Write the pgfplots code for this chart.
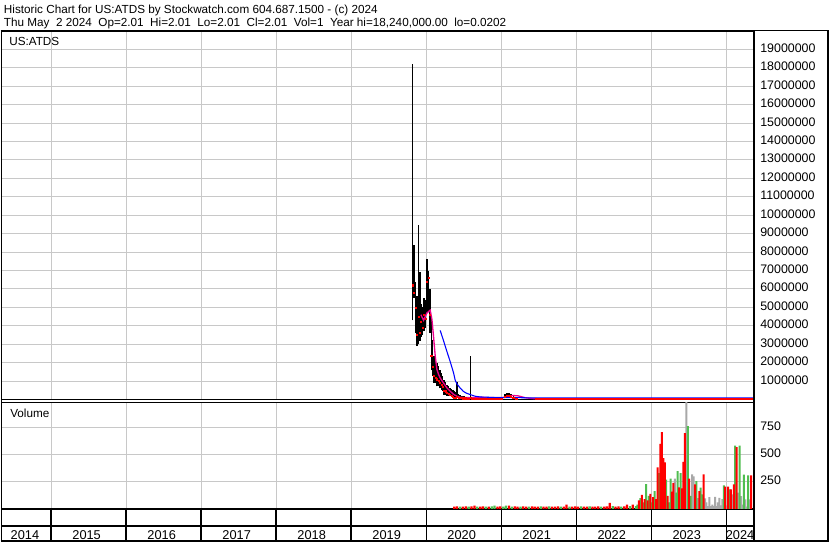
\documentclass[border=0pt]{standalone}
\usepackage{pgfplots}
\pgfplotsset{compat=1.18}
\usepackage{pgfplotstable}
\usepackage{fontspec}
\setmainfont{Liberation Sans}
\definecolor{gridgray}{RGB}{200,200,200}
\definecolor{volgreen}{RGB}{80,190,80}
\definecolor{volgray}{RGB}{168,168,168}

% price bars, values in millions of dollars
\pgfplotstableread{
t lo hi cl
2019.818 4.3 18.2 6.2
2019.837 5.5 8.4 5.8
2019.856 3.6 6.4 5.0
2019.875 2.9 5.6 3.5
2019.895 3.0 9.45 4.5
2019.914 3.2 6.9 3.6
2019.933 3.4 5.2 4.2
2019.952 3.5 5.0 3.9
2019.971 3.7 5.5 4.6
2019.990 3.9 5.4 4.4
2020.009 4.7 7.6 6.4
2020.028 4.8 7.0 6.6
2020.048 3.6 6.0 4.6
2020.067 1.6 4.5 2.4
2020.086 1.27 3.25 1.8
2020.105 0.9 2.35 1.3
2020.124 0.9 2.2 1.2
2020.143 0.72 2.0 1.1
2020.163 0.72 1.8 1.0
2020.182 0.6 1.6 0.9
2020.201 0.54 1.45 0.8
2020.220 0.45 1.3 0.7
2020.239 0.27 1.08 0.5
2020.258 0.27 0.95 0.45
2020.277 0.2 0.81 0.35
2020.297 0.18 0.75 0.3
2020.316 0.18 0.65 0.25
2020.335 0.15 0.55 0.2
2020.354 0.1 0.54 0.15
2020.373 0.09 0.45 0.12
2020.392 0.09 0.4 0.12
2020.411 0.1 0.95 0.15
2020.430 0.08 0.3 0.1
2020.449 0.06 0.25 0.08
2020.469 0.06 0.2 0.08
2020.488 0.05 0.2 0.07
2020.507 0.05 0.18 0.07
2020.526 0.05 0.15 0.07
2020.545 0.05 0.15 0.06
2020.564 0.05 0.14 0.06
2020.590 0.08 2.35 0.1
2020.602 0.05 0.14 0.06
2020.640 0.05 0.12 0.06
2020.680 0.04 0.12 0.05
2020.720 0.04 0.1 0.05
2020.760 0.04 0.1 0.05
2020.800 0.04 0.09 0.05
2020.840 0.04 0.09 0.05
2020.880 0.03 0.08 0.04
2020.920 0.03 0.08 0.04
2020.960 0.03 0.08 0.04
2021.000 0.03 0.08 0.04
2021.050 0.1 0.3 0.15
2021.070 0.12 0.35 0.2
2021.090 0.12 0.33 0.2
2021.110 0.1 0.36 0.2
2021.130 0.1 0.3 0.15
2021.160 0.06 0.2 0.1
2021.200 0.03 0.08 0.04
}\pricebars

\pgfplotstableread{
t v
2019.929 4.6
2019.964 4.3
2020.009 4.7
2020.053 4.85
2020.076 4.34
2020.097 3.43
2020.120 2.35
2020.142 1.63
2020.164 1.36
2020.186 1.17
2020.230 0.9
2020.276 0.63
2020.320 0.45
2020.364 0.28
2020.409 0.18
2020.453 0.12
2020.586 0.1
2020.719 0.12
2020.919 0.1
2021.052 0.12
2021.145 0.22
2021.225 0.2
2021.318 0.1
2021.425 0.05
2021.784 0.03
2024.374 0.03
}\mamag

\pgfplotstableread{
t v
2020.186 3.75
2020.230 3.2
2020.276 2.6
2020.320 2.05
2020.364 1.45
2020.386 1.05
2020.409 0.85
2020.453 0.62
2020.493 0.45
2020.533 0.35
2020.586 0.27
2020.652 0.18
2020.719 0.14
2020.852 0.12
2020.985 0.1
2021.252 0.1
2021.385 0.09
2021.585 0.09
2024.374 0.09
}\mablue

% volume, small early bars
\pgfplotstableread{
t v
2020.373 20
2020.411 24
2020.488 20
2020.527 24
2020.603 24
2020.642 30
2020.719 20
2020.757 24
2020.834 20
2020.949 20
2020.987 24
2021.103 30
2021.179 24
2021.218 20
2021.294 24
2021.333 20
2021.410 24
2021.448 20
2021.487 20
2021.563 20
2021.602 20
2021.678 20
2021.717 20
2021.755 24
2021.832 20
2021.870 40
2021.947 20
2021.986 24
2022.024 20
2022.101 20
2022.139 20
2022.216 20
2022.254 20
2022.293 24
2022.370 20
2022.408 24
2022.446 55
2022.523 20
2022.562 24
2022.638 24
2022.677 40
2022.754 40
}\volsmallred

\pgfplotstableread{
t v
2020.450 20
2020.565 20
2020.680 20
2020.795 20
2020.872 24
2020.910 30
2021.026 20
2021.064 30
2021.141 20
2021.256 20
2021.371 20
2021.525 24
2021.640 24
2021.794 20
2021.909 20
2022.062 24
2022.178 24
2022.331 20
2022.485 25
2022.600 20
2022.715 25
}\volsmallgreen

% volume, weekly bars from late 2022
\pgfplotstableread{
t v
2022.835 80
2022.873 130
2022.911 90
2022.950 80
2022.988 140
2023.026 110
2023.065 90
2023.084 385
2023.122 600
2023.142 710
2023.161 470
2023.180 430
2023.218 120
2023.276 160
2023.295 240
2023.372 200
2023.410 190
2023.429 435
2023.448 700
2023.506 280
2023.583 226
2023.640 165
2023.698 320
2023.985 205
2024.024 205
2024.062 180
2024.100 226
2024.139 571
2024.330 310
}\volred

\pgfplotstableread{
t v
2022.796 25
2022.815 40
2022.854 100
2022.892 60
2022.930 230
2022.969 120
2023.007 60
2023.046 165
2023.103 330
2023.199 270
2023.237 60
2023.257 280
2023.333 150
2023.352 350
2023.391 330
2023.487 766
2023.525 120
2023.602 257
2023.659 196
2023.678 134
2023.966 217
2024.043 180
2024.119 586
2024.177 586
2024.234 318
2024.292 309
}\volgreen

\pgfplotstableread{
t v
2023.314 280
2023.467 1000
2023.544 320
2023.563 300
2023.621 100
2023.717 97
2023.736 60
2023.755 26
2023.774 110
2023.793 26
2023.813 40
2023.832 26
2023.851 112
2023.870 26
2023.889 60
2023.908 103
2023.928 32
2023.947 90
2024.004 32
2024.081 134
2024.158 150
2024.196 119
2024.215 40
2024.254 88
2024.273 20
2024.311 88
}\volgray

\pgfplotsset{chartbase/.style={
  scale only axis, width=565.125pt,
  xmin=2014.341, xmax=2024.374,
  xtick={2015,2016,2017,2018,2019,2020,2021,2022,2023,2024},
  xticklabels={}, xmajorgrids, ymajorgrids,
  grid style={gridgray, line width=0.75pt},
  major tick length=0pt,
  yticklabel pos=right,
  yticklabel style={anchor=west, inner sep=0pt, xshift=4.3pt, yshift=1pt, font=\fontsize{9.3}{10}\selectfont},
  axis line style={black, line width=1.1pt},
  /pgf/number format/assume math mode=true}}

\begin{document}
\begin{tikzpicture}
\begin{scope}[x=0.75pt,y=-0.75pt]
\useasboundingbox (0,0) rectangle (830,543);
\fill[white] (0,0) rectangle (830,543);
\end{scope}

\begin{axis}[chartbase, at={(0.75pt,-300pt)}, anchor=south west, height=276.75pt,
  ymin=0, ymax=20, ytick={1,2,3,4,5,6,7,8,9,10,11,12,13,14,15,16,17,18,19},
  yticklabels={1000000,2000000,3000000,4000000,5000000,6000000,7000000,8000000,9000000,10000000,11000000,12000000,13000000,14000000,15000000,16000000,17000000,18000000,19000000}]
\addplot[draw=none, mark=none, error bars/.cd, y dir=plus, y explicit, error mark=none,
  error bar style={draw=black, solid, line width=1.1pt}]
  table[x=t, y=lo, y error plus expr=\thisrow{hi}-\thisrow{lo}] {\pricebars};
\addplot[only marks, mark=square*, mark size=0.4pt, red, mark options={draw=red, fill=red}] table[x=t, y=cl] {\pricebars};
\addplot[magenta, line width=1.0pt] table[x=t, y=v] {\mamag};
\addplot[blue, line width=0.8pt] table[x=t, y=v] {\mablue};
\addplot[red, line width=1.3pt] coordinates {(2021.45,0.04) (2024.374,0.04)};
\end{axis}

\begin{axis}[chartbase, at={(0.75pt,-382.125pt)}, anchor=south west, height=80.03pt,
  ymin=0, ymax=985, ytick={250,500,750}, yticklabels={250,500,750}]
\addplot[ybar, bar shift=0pt, bar width=1.7pt, fill=red, draw=none] table[x=t, y=v] {\volsmallred};
\addplot[ybar, bar shift=0pt, bar width=1.7pt, fill=volgreen, draw=none] table[x=t, y=v] {\volsmallgreen};
\addplot[ybar, bar shift=0pt, bar width=1.5pt, fill=volgray, draw=none] table[x=t, y=v] {\volgray};
\addplot[ybar, bar shift=0pt, bar width=1.5pt, fill=volgreen, draw=none] table[x=t, y=v] {\volgreen};
\addplot[ybar, bar shift=0pt, bar width=1.5pt, fill=red, draw=none] table[x=t, y=v] {\volred};
\end{axis}

\begin{scope}[x=0.75pt,y=-0.75pt]
% frame and date strip
\draw[line width=1.1pt] (0,30.5) -- (829.5,30.5);
\draw[line width=1.1pt] (828.3,30.5) -- (828.3,541.7);
\draw[line width=1.3pt] (0.9,30.5) -- (0.9,541.7);
\draw[line width=1.1pt] (0,541.7) -- (829.5,541.7);
\draw[line width=1.1pt] (1,526.8) -- (754.5,526.8);
\draw[line width=1.3pt] (754.5,30.5) -- (754.5,541.7);
\foreach \x in {50.5,125.6,200.7,275.8,350.9,426,501.1,576.2,651.3,726.4}
  \draw[line width=1.1pt] (\x,509.5) -- (\x,541.7);

\begin{scope}[font=\fontsize{8.8}{10}\selectfont]
\node[anchor=base west, inner sep=0pt] at (3,13.3) {Historic Chart for US:ATDS by Stockwatch.com 604.687.1500 - (c) 2024};
\node[anchor=base west, inner sep=0pt] at (3,26.7) {Thu May~ 2 2024~ Op=2.01~ Hi=2.01~ Lo=2.01~ Cl=2.01~ Vol=1~ Year hi=18,240,000.00~ lo=0.0202};
\node[anchor=base west, inner sep=0pt] at (8.3,46) {US:ATDS};
\node[anchor=base west, inner sep=0pt] at (9.3,417.7) {Volume};
\end{scope}
\begin{scope}[font=\fontsize{9.6}{10}\selectfont]
\foreach \lab/\x in {2014/24.2,2015/86,2016/161.1,2017/236.2,2018/311.3,2019/386.4,2020/461.5,2021/536.6,2022/611.7,2023/686.8,2024/740.2}
  \node[anchor=base, inner sep=0pt] at (\x,540) {\lab};
\end{scope}
\end{scope}
\end{tikzpicture}
\end{document}
